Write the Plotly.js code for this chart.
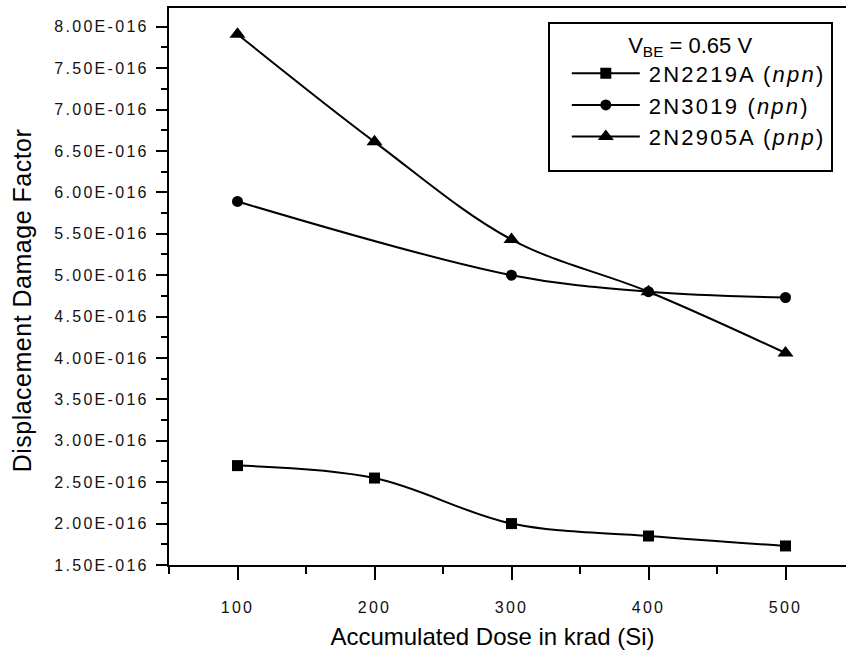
<!DOCTYPE html>
<html>
<head>
<meta charset="utf-8">
<script src="https://cdn.plot.ly/plotly-3.0.1.min.js"></script>
<style>
  html, body { margin: 0; padding: 0; overflow: hidden; background: #fff; width: 846px; height: 653px; }
  #chart { width: 860px; height: 653px; }
  .ytick text, .xtick text { letter-spacing: 2.3px; }
  .legendtext { letter-spacing: 2.2px; }
  .ytitle { letter-spacing: 0.5px; }
</style>
</head>
<body>
<div id="chart"></div>
<script>
// ---- data ----
const doses = [100, 200, 300, 400, 500];
const ddf2N2219A = [2.70e-16, 2.55e-16, 2.00e-16, 1.85e-16, 1.73e-16];
const doses2N3019 = [100, 300, 400, 500];
const ddf2N3019 = [5.89e-16, 5.00e-16, 4.80e-16, 4.73e-16];
const ddf2N2905A = [7.91e-16, 6.61e-16, 5.43e-16, 4.80e-16, 4.06e-16];
const seriesNames = ["2N2219A (<i>npn</i>)", "2N3019 (<i>npn</i>)", "2N2905A (<i>pnp</i>)"];
const legendTitle = "V<sub>BE</sub> = 0.65 V";
const xTickVals = [100, 200, 300, 400, 500];
const xTickText = ["100", "200", "300", "400", "500"];
const xMinorVals = [50, 150, 250, 350, 450, 550];
const yTickVals = [1.5e-16, 2.0e-16, 2.5e-16, 3.0e-16, 3.5e-16, 4.0e-16, 4.5e-16, 5.0e-16, 5.5e-16, 6.0e-16, 6.5e-16, 7.0e-16, 7.5e-16, 8.0e-16];
const yTickText = ["1.50E-016", "2.00E-016", "2.50E-016", "3.00E-016", "3.50E-016", "4.00E-016", "4.50E-016", "5.00E-016", "5.50E-016", "6.00E-016", "6.50E-016", "7.00E-016", "7.50E-016", "8.00E-016"];
const yMinorVals = [1.75e-16, 2.25e-16, 2.75e-16, 3.25e-16, 3.75e-16, 4.25e-16, 4.75e-16, 5.25e-16, 5.75e-16, 6.25e-16, 6.75e-16, 7.25e-16, 7.75e-16];

const FONT = "Liberation Sans, Arial, sans-serif";
const lineStyle = { color: "#000", width: 2, shape: "spline", smoothing: 1 };

const traces = [
  { x: doses, y: ddf2N2219A, name: seriesNames[0], mode: "lines+markers",
    line: lineStyle, marker: { symbol: "square", size: 11, color: "#000" } },
  { x: doses2N3019, y: ddf2N3019, name: seriesNames[1], mode: "lines+markers",
    line: lineStyle, marker: { symbol: "circle", size: 11, color: "#000" } },
  { x: doses, y: ddf2N2905A, name: seriesNames[2], mode: "lines+markers",
    line: lineStyle, marker: { symbol: "triangle-up", size: 14, color: "#000" } }
];

const layout = {
  width: 860, height: 653,
  margin: { l: 169, r: 6, t: 8, b: 88 },
  paper_bgcolor: "#fff", plot_bgcolor: "#fff",
  font: { family: FONT, color: "#000" },
  showlegend: true,
  legend: {
    x: 0.553, y: 0.975, xanchor: "left", yanchor: "top",
    bgcolor: "#fff", bordercolor: "#000", borderwidth: 2,
    font: { family: FONT, size: 22, color: "#000" },
    title: { text: legendTitle, side: "top center", font: { family: FONT, size: 22, color: "#000" } },
    itemwidth: 89, tracegroupgap: 0
  },
  xaxis: {
    range: [50, 550], showgrid: false, zeroline: false,
    showline: true, linecolor: "#000", linewidth: 2, mirror: true,
    ticks: "outside", ticklen: 13, tickwidth: 2, tickcolor: "#000",
    tickmode: "array", tickvals: xTickVals, ticktext: xTickText,
    tickfont: { family: FONT, size: 16, color: "#111" },
    ticklabelstandoff: 14,
    minor: { tickmode: "array", tickvals: xMinorVals, ticks: "outside", ticklen: 7, tickwidth: 2, tickcolor: "#000", showgrid: false },
    title: { text: "Accumulated Dose in krad (Si)", font: { family: FONT, size: 24, color: "#000" }, standoff: 13 }
  },
  yaxis: {
    range: [1.5e-16, 8.226e-16], showgrid: false, zeroline: false,
    showline: true, linecolor: "#000", linewidth: 2, mirror: true,
    ticks: "outside", ticklen: 11, tickwidth: 2, tickcolor: "#000",
    tickmode: "array", tickvals: yTickVals, ticktext: yTickText,
    tickfont: { family: FONT, size: 16, color: "#111" },
    ticklabelstandoff: 4,
    minor: { tickmode: "array", tickvals: yMinorVals, ticks: "outside", ticklen: 6, tickwidth: 2, tickcolor: "#000", showgrid: false },
    title: { text: "Displacement Damage Factor", font: { family: FONT, size: 25, color: "#000" }, standoff: 14 }
  }
};

Plotly.newPlot("chart", traces, layout, { staticPlot: true, displayModeBar: false }).then(function (gd) {
  // lengthen the legend line samples and centre the markers on them
  gd.querySelectorAll(".legend .legendlines path").forEach(function (p) {
    p.setAttribute("d", "M22,0h68");
  });
  gd.querySelectorAll(".legend .legendsymbols path.scatterpts").forEach(function (p) {
    p.setAttribute("transform", "translate(56,0)");
  });
  // taller legend box like the reference
  gd.querySelectorAll(".legend rect.bg").forEach(function (r) {
    var h = parseFloat(r.getAttribute("height"));
    if (!isNaN(h)) r.setAttribute("height", h + 12);
  });
  // nudge axis titles to the reference positions
  var xt = gd.querySelector(".xtitle");
  if (xt) xt.setAttribute("transform", "translate(-19,0) " + (xt.getAttribute("transform") || ""));
  var yt = gd.querySelector(".ytitle");
  if (yt) yt.setAttribute("transform", "translate(-2,14) " + (yt.getAttribute("transform") || ""));
});
</script>
</body>
</html>
